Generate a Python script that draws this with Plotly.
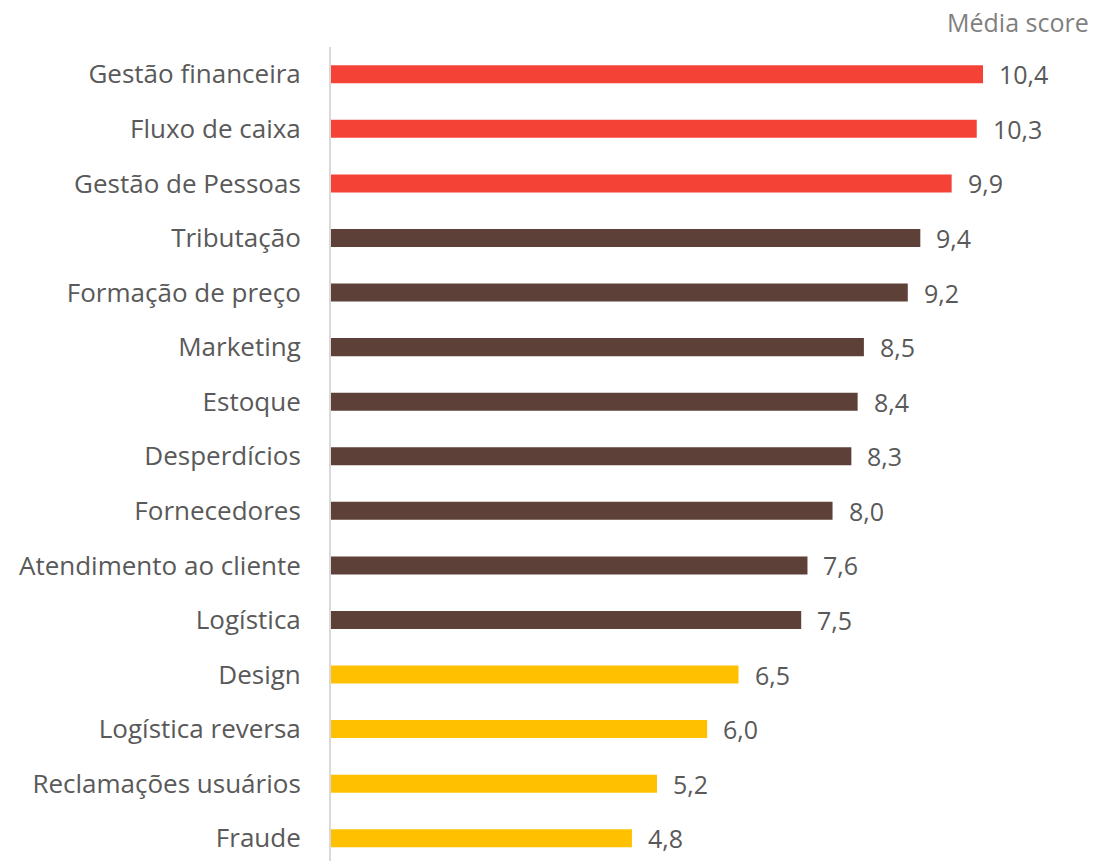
import plotly.graph_objects as go

categories = ["Gestão financeira", "Fluxo de caixa", "Gestão de Pessoas", "Tributação",
              "Formação de preço", "Marketing", "Estoque", "Desperdícios", "Fornecedores",
              "Atendimento ao cliente", "Logística", "Design", "Logística reversa",
              "Reclamações usuários", "Fraude"]
values = [10.4, 10.3, 9.9, 9.4, 9.2, 8.5, 8.4, 8.3, 8.0, 7.6, 7.5, 6.5, 6.0, 5.2, 4.8]
groups = ["high"] * 3 + ["mid"] * 8 + ["low"] * 4
palette = {"high": "#F44336", "mid": "#5D4037", "low": "#FFC000"}

FONT = "Open Sans"

# bottom-to-top order for the plot
cats_b = categories[::-1]
vals_b = values[::-1]
cols_b = [palette[g] for g in groups[::-1]]

fig = go.Figure()
fig.add_trace(go.Bar(
    y=cats_b, x=vals_b, orientation="h",
    marker=dict(color=cols_b, line=dict(width=0)),
    width=0.33, hoverinfo="skip",
))

for c, v in zip(cats_b, vals_b):
    fig.add_annotation(x=v, y=c, text=f"{v:.1f}".replace(".", ","),
                       xanchor="left", xshift=14, showarrow=False,
                       font=dict(family=FONT, size=25, color="#595959"))

fig.add_annotation(x=1, y=1, xref="paper", yref="paper", xanchor="right", yanchor="middle",
                   xshift=-8, yshift=25, text="Média score", showarrow=False,
                   font=dict(family=FONT, size=25, color="#7F7F7F"))

fig.update_layout(
    width=1091, height=853,
    margin=dict(l=323, r=0, t=39, b=0, autoexpand=False),
    plot_bgcolor="white", paper_bgcolor="white",
    showlegend=False,
    font=dict(family=FONT, size=26, color="#595959"),
    xaxis=dict(range=[0, 12.25], visible=False, showgrid=False, zeroline=False),
    yaxis=dict(categoryorder="array", categoryarray=cats_b, range=[-0.417, 14.5],
               showline=True, linecolor="#D9D9D9", linewidth=2, ticks="",
               ticklabelstandoff=23, showgrid=False, zeroline=False, automargin=False,
               tickfont=dict(family=FONT, size=26, color="#595959")),
)

fig.write_html("out.html")
